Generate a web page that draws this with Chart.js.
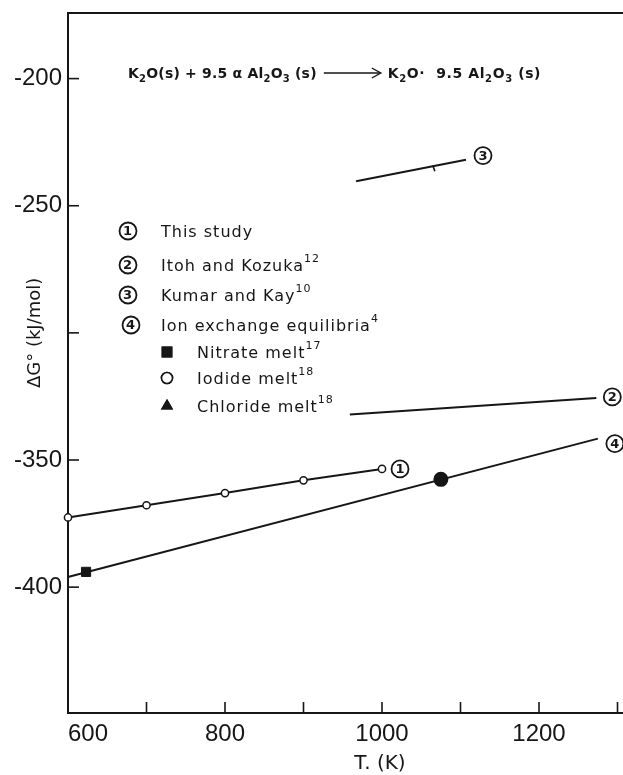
<!DOCTYPE html>
<html>
<head>
<meta charset="utf-8">
<script src="https://cdn.jsdelivr.net/npm/chart.js@4.4.0/dist/chart.umd.min.js"></script>
<style>
  html, body { margin: 0; padding: 0; background: #fff; }
  canvas { display: block; }
</style>
</head>
<body>
<canvas id="chart" width="623" height="775"></canvas>
<script>
// Standard free energy of K2O·9.5Al2O3 formation vs temperature

const xTicks = [600, 700, 800, 900, 1000, 1100, 1200, 1300];
const xLabels = [600, 800, 1000, 1200];
const yTicks = [-400, -350, -300, -250, -200];
const yLabels = [-400, -350, -250, -200];

const studyT = [600, 700, 800, 900, 1000];
const studyG = [-372.6, -367.8, -363.0, -358.0, -353.5];
const itohT = [959, 1273];
const itohG = [-332.1, -325.6];
const kumarT = [967, 1107];
const kumarG = [-240.4, -231.9];
const kumarMarkT = [1066];
const kumarMarkG = [-235.3];
const ionT = [600, 1275];
const ionG = [-396.0, -341.6];
const nitrateT = [623];
const nitrateG = [-394.0];
const iodideT = [1075];
const iodideG = [-357.6];
const chlorideT = [1075];
const chlorideG = [-357.6];

const legendNames = ['This study', 'Itoh and Kozuka', 'Kumar and Kay', 'Ion exchange equilibria',
                     'Nitrate melt', 'Iodide melt', 'Chloride melt'];
const legendRefs = ['', '12', '10', '4', '17', '18', '18'];

const INK = '#161616';
const FONT = '"DejaVu Sans", sans-serif';
const pts = (xs, ys) => xs.map((x, i) => ({ x, y: ys[i] }));

// ── drawing helpers ─────────────────────────────────────────────────────────
function badge(ctx, n, x, y) {
  ctx.save();
  ctx.lineWidth = 1.8; ctx.strokeStyle = INK; ctx.fillStyle = INK;
  ctx.beginPath(); ctx.arc(x, y, 8.5, 0, Math.PI * 2); ctx.stroke();
  ctx.font = 'bold 13px ' + FONT;
  ctx.textAlign = 'center'; ctx.textBaseline = 'middle';
  ctx.fillText(String(n), x, y + 0.5);
  ctx.restore();
}

// parts: [text, 'n' | 'sub' | 'sup']
function rich(ctx, parts, x, y, size, weight) {
  ctx.save();
  ctx.fillStyle = INK; ctx.textBaseline = 'alphabetic'; ctx.textAlign = 'left';
  for (const [t, mode] of parts) {
    const s = mode === 'n' ? size : Math.round(size * 0.68);
    const dy = mode === 'sub' ? size * 0.28 : mode === 'sup' ? -size * 0.55 : 0;
    ctx.font = `${weight} ${s}px ${FONT}`;
    ctx.fillText(t, x, y + dy);
    x += ctx.measureText(t).width;
  }
  ctx.restore();
  return x;
}

const decor = {
  id: 'decor',
  afterDraw(chart) {
    const { ctx, chartArea: a, scales: { x, y } } = chart;
    ctx.save();
    ctx.strokeStyle = INK; ctx.lineWidth = 2;

    // top frame line
    ctx.beginPath(); ctx.moveTo(a.left - 1, a.top); ctx.lineTo(a.right, a.top); ctx.stroke();

    // inward tick marks
    ctx.lineWidth = 1.6;
    xTicks.forEach(v => {
      if (v === 600) return;
      const px = x.getPixelForValue(v);
      ctx.beginPath(); ctx.moveTo(px, a.bottom); ctx.lineTo(px, a.bottom - 11); ctx.stroke();
    });
    yTicks.forEach(v => {
      const py = y.getPixelForValue(v);
      ctx.beginPath(); ctx.moveTo(a.left, py); ctx.lineTo(a.left + 11, py); ctx.stroke();
    });

    // axis titles
    ctx.fillStyle = INK;
    ctx.font = '20px ' + FONT;
    ctx.textAlign = 'center'; ctx.textBaseline = 'middle';
    ctx.fillText('T. (K)', 380, 764);
    ctx.save();
    ctx.translate(35, y.getPixelForValue(-300)); ctx.rotate(-Math.PI / 2);
    ctx.font = '18px ' + FONT;
    ctx.fillText('ΔG° (kJ/mol)', 0, 0);
    ctx.restore();

    // reaction equation
    const base = 78;
    ctx.letterSpacing = '0.2px';
    let ex = rich(ctx, [['K', 'n'], ['2', 'sub'], ['O(s) + 9.5 α Al', 'n'], ['2', 'sub'], ['O', 'n'], ['3', 'sub'], [' (s) ', 'n']], 128, base, 14, 'bold');
    ctx.lineWidth = 1.4;
    ctx.beginPath(); ctx.moveTo(ex + 2, base - 5); ctx.lineTo(ex + 58, base - 5); ctx.stroke();
    ctx.beginPath(); ctx.moveTo(ex + 50, base - 10); ctx.lineTo(ex + 59, base - 5); ctx.lineTo(ex + 50, base); ctx.stroke();
    ctx.letterSpacing = '0.6px';
    rich(ctx, [['K', 'n'], ['2', 'sub'], ['O·  9.5 Al', 'n'], ['2', 'sub'], ['O', 'n'], ['3', 'sub'], [' (s)', 'n']], ex + 66, base, 14, 'bold');

    // legend
    const rowY = [231, 265, 295, 325, 352, 378, 406];
    ctx.letterSpacing = '1px';
    legendNames.forEach((name, i) => {
      const ty = rowY[i] + 6;
      if (i < 4) {
        badge(ctx, i + 1, 128 + (i === 3 ? 3 : 0), rowY[i]);
        rich(ctx, [[name, 'n'], [legendRefs[i], 'sup']], 161, ty, 16, 'normal');
      } else {
        const style = ['rect', 'circle', 'triangle'][i - 4];
        ctx.fillStyle = style === 'circle' ? '#fff' : INK;
        ctx.strokeStyle = INK; ctx.lineWidth = 1.6;
        Chart.helpers.drawPoint(ctx, { pointStyle: style, radius: style === 'rect' ? 6.5 : 5.5, rotation: 0, borderWidth: 1.6 }, 167, rowY[i]);
        ctx.fill(); ctx.stroke();
        rich(ctx, [[name, 'n'], [legendRefs[i], 'sup']], 197, ty, 16, 'normal');
      }
    });
    ctx.letterSpacing = '0px';

    // numbered labels at line ends
    const end = (ts, gs) => ({ px: x.getPixelForValue(ts[ts.length - 1]), py: y.getPixelForValue(gs[gs.length - 1]) });
    let e = end(studyT, studyG); badge(ctx, 1, e.px + 18, e.py);
    e = end(itohT, itohG);  badge(ctx, 2, e.px + 16, e.py - 1);
    e = end(kumarT, kumarG); badge(ctx, 3, e.px + 17, e.py - 4);
    e = end(ionT, ionG);    badge(ctx, 4, e.px + 17, e.py + 5);

    ctx.restore();
  },
};

const line = (data) => ({ data, showLine: true, borderColor: INK, borderWidth: 2, pointRadius: 0, clip: false });
const noPad = s => { s.paddingTop = 0; s.paddingBottom = 0; s.paddingLeft = 0; s.paddingRight = 0; };

new Chart(document.getElementById('chart'), {
  type: 'scatter',
  data: {
    datasets: [
      { ...line(pts(studyT, studyG)), pointRadius: 3.6, pointBackgroundColor: '#fff', pointBorderColor: INK, pointBorderWidth: 1.5 },
      line(pts(itohT, itohG)),
      line(pts(kumarT, kumarG)),
      line(pts(ionT, ionG)),
      { data: pts(kumarMarkT, kumarMarkG), pointStyle: 'line', pointRadius: 3, rotation: 70, borderColor: INK, borderWidth: 1.6 },
      { data: pts(nitrateT, nitrateG), pointStyle: 'rect', pointRadius: 6.5, backgroundColor: INK, borderColor: INK, clip: false },
      { data: pts(iodideT, iodideG), pointStyle: 'circle', pointRadius: 6.5, backgroundColor: INK, borderColor: INK, borderWidth: 2 },
      { data: pts(chlorideT, chlorideG), pointStyle: 'triangle', pointRadius: 6, backgroundColor: INK, borderColor: INK },
    ],
  },
  options: {
    responsive: false, animation: false,
    layout: { autoPadding: false, padding: { top: 13, right: 0, left: 0, bottom: 0 } },
    plugins: { legend: { display: false }, tooltip: { enabled: false } },
    scales: {
      x: {
        type: 'linear', min: 600, max: 1307,
        afterFit: s => { s.height = 62; noPad(s); },
        afterBuildTicks: s => { s.ticks = xTicks.map(value => ({ value })); },
        ticks: { callback: v => xLabels.includes(v) ? String(v) : '', align: 'inner', autoSkip: false, maxRotation: 0,
                 padding: 7, color: INK, font: { family: '"Liberation Sans", sans-serif', size: 24 } },
        grid: { drawOnChartArea: false, drawTicks: false },
        border: { color: INK, width: 2 },
      },
      y: {
        min: -449.5, max: -174.2,
        afterFit: s => { s.width = 68; noPad(s); },
        afterBuildTicks: s => { s.ticks = yTicks.map(value => ({ value })); },
        ticks: { callback: v => yLabels.includes(v) ? String(v) : '', autoSkip: false, padding: 6,
                 color: INK, font: { family: '"Liberation Sans", sans-serif', size: 24 } },
        grid: { drawOnChartArea: false, drawTicks: false },
        border: { color: INK, width: 2 },
      },
    },
  },
  plugins: [decor],
});
</script>
</body>
</html>
